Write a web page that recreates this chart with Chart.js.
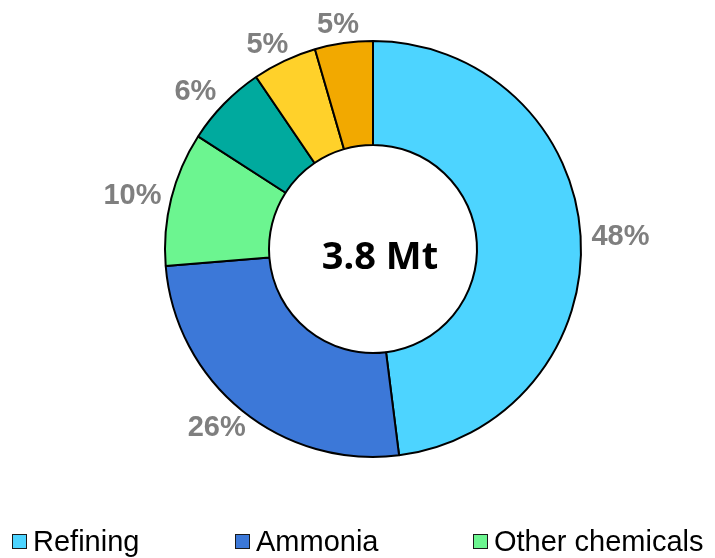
<!DOCTYPE html>
<html>
<head>
<meta charset="utf-8">
<script src="https://cdn.jsdelivr.net/npm/chart.js@4"></script>
<style>
  html, body { margin: 0; padding: 0; background: #fff; }
  #wrap { position: relative; width: 715px; height: 558px; overflow: hidden; }
  #legend { position: absolute; left: 0; top: 0; width: 715px; height: 558px; pointer-events: none; }
  .item { position: absolute; top: 525px; font: 29px "Liberation Sans", Arial, sans-serif; color: #000; white-space: nowrap; line-height: 32px; }
  .box { position: absolute; left: 0; top: 9px; width: 13px; height: 13px; border: 1.5px solid #1a1a1a; }
  .txt { position: absolute; left: 21px; top: 0; }
</style>
</head>
<body>
<div id="wrap">
  <canvas id="donut" width="715" height="558"></canvas>
  <div id="legend"></div>
</div>
<script>
const labels = ['Refining', 'Ammonia', 'Other chemicals', 'Iron and steel', 'Methanol', 'Other'];
const shares = [48, 25.7, 10.4, 6.4, 5.0, 4.5];
const colors = ['#4dd4ff', '#3c78d8', '#6cf590', '#00aa9e', '#ffd12a', '#f2a900'];
const totalLabel = '3.8 Mt';
const legendShown = 3;
const legendLeft = [12, 235, 473];

// legend (only first row is visible in the picture)
const legend = document.getElementById('legend');
for (let i = 0; i < legendShown; i++) {
    const el = document.createElement('div');
    el.className = 'item';
    el.style.left = legendLeft[i] + 'px';
    el.innerHTML = '<span class="box" style="background:' + colors[i] + '"></span><span class="txt">' + labels[i] + '</span>';
    legend.appendChild(el);
}

const centerText = {
    id: 'centerText',
    afterDraw(chart) {
        const arc = chart.getDatasetMeta(0).data[0];
        const c = chart.ctx;
        c.save();
        c.font = 'bold 38px "Noto Sans", "Open Sans", sans-serif';
        c.fillStyle = '#000';
        c.textAlign = 'center';
        c.textBaseline = 'middle';
        c.fillText(totalLabel, arc.x + 7, arc.y + 9);
        c.restore();
    }
};

const pctLabels = {
    id: 'pctLabels',
    afterDatasetsDraw(chart) {
        const c = chart.ctx;
        const meta = chart.getDatasetMeta(0);
        c.save();
        c.font = 'bold 29px "Liberation Sans", Arial, sans-serif';
        c.fillStyle = '#7f7f7f';
        c.textAlign = 'center';
        c.textBaseline = 'middle';
        meta.data.forEach((arc, i) => {
            const mid = (arc.startAngle + arc.endAngle) / 2;
            const x = arc.x + Math.cos(mid) * (arc.outerRadius + 40);
            const y = arc.y + Math.sin(mid) * (arc.outerRadius + 20) + 2;
            c.fillText(Math.round(shares[i]) + '%', x, y);
        });
        c.restore();
    }
};

const ctx = document.getElementById('donut').getContext('2d');
const chart = new Chart(ctx, {
    type: 'doughnut',
    data: {
        labels: labels,
        datasets: [{
            data: shares,
            backgroundColor: colors,
            borderColor: '#000',
            borderWidth: 2
        }]
    },
    options: {
        responsive: false,
        animation: false,
        cutout: '50%',
        layout: {
            padding: { top: 40, bottom: 100, left: 164, right: 133 }
        },
        plugins: {
            legend: { display: false },
            tooltip: { enabled: false }
        }
    },
    plugins: [pctLabels, centerText]
});
</script>
</body>
</html>
